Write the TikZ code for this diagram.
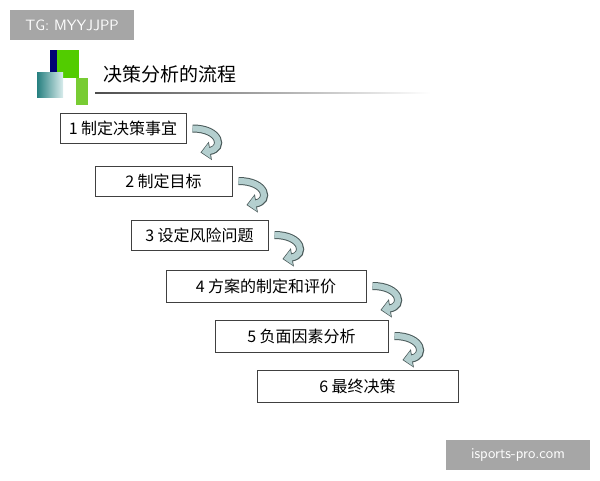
\documentclass[tikz,border=0pt]{standalone}
\usepackage{fontspec}
\setmainfont{Noto Sans CJK SC}
\usetikzlibrary{calc,arrows.meta}
\definecolor{turncol}{HTML}{B4CFCF}
\definecolor{turnedge}{HTML}{4A5A5A}
\definecolor{markgray}{HTML}{A6A6A6}
\begin{document}
\begin{tikzpicture}[x=1pt, y=-1pt,
    stepbox/.style={draw=black!75, line width=1pt, fill=white, inner sep=0pt, minimum height=30pt, font=\fontsize{16}{18}\selectfont},
    turnline/.style={line width=8pt, draw=turnedge, -{Triangle[width=18pt,length=10pt]}},
    turninner/.style={line width=6pt, draw=turncol, -{Triangle[width=15pt,length=8pt]}, shorten >=1.2pt},
    stamp/.style={fill=markgray, text=white, inner sep=0pt, font=\sffamily\fontsize{15}{17}\selectfont}]
    \useasboundingbox (0,0) rectangle (600,480);
    % watermarks
    \node[stamp, minimum width=124pt, minimum height=30pt] (tg) at (72,25) {TG: MYYJJPP};
    \node[stamp, minimum width=144pt, minimum height=30pt] (site) at (518,455) {isports-pro.com};
    % title decoration
    \fill[blue!45!black] (50,50) rectangle (57,78);
    \fill[green!60!yellow!80!black] (57,50) rectangle (79,78);
    \shade[left color=teal!70!gray, right color=teal!15] (37,72) rectangle (63,97);
    \fill[green!55!yellow!75!black!80] (76,78) rectangle (88,105);
    \shade[left color=black!70, right color=white] (95,92.5) rectangle (430,93.5);
    \node[anchor=west, font=\fontsize{19}{22}\selectfont] (title) at (100,74) {决策分析的流程};
    % steps
    \node[stepbox, minimum width=126pt] (s1) at (123,128.5) {1 制定决策事宜};
    \node[stepbox, minimum width=137pt] (s2) at (163.5,181) {2 制定目标};
    \node[stepbox, minimum width=137pt] (s3) at (199.5,235) {3 设定风险问题};
    \node[stepbox, minimum width=200pt, minimum height=32pt] (s4) at (266,286) {4 方案的制定和评价};
    \node[stepbox, minimum width=173pt, minimum height=32pt] (s5) at (301.5,336) {5 负面因素分析};
    \node[stepbox, minimum width=201pt, minimum height=32pt] (s6) at (357.5,386) {6 最终决策};
    % turning arrows
    \foreach \a in {s1,s2,s3,s4,s5} {
        \coordinate (p\a) at ($(\a.east)+(6,0)$);
        \coordinate (q\a) at ($(p\a)+(8,24)$);
        \draw[turnline] (p\a) .. controls ($(p\a)+(28,0)$) and ($(q\a)+(24,-4)$) .. (q\a);
        \draw[turninner] (p\a) .. controls ($(p\a)+(28,0)$) and ($(q\a)+(24,-4)$) .. (q\a);
    }
\end{tikzpicture}
\end{document}
